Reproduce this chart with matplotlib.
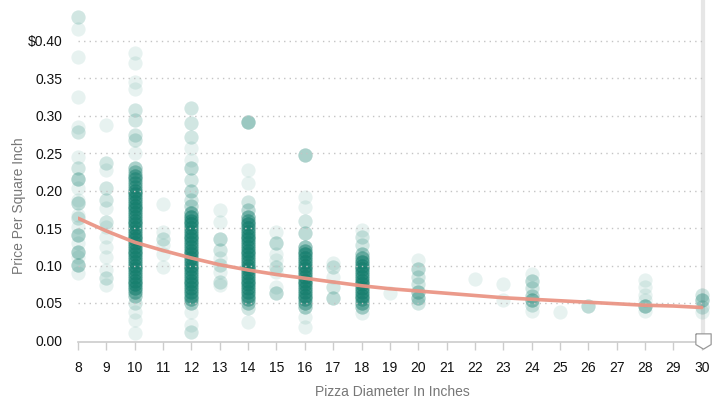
import matplotlib
matplotlib.use('Agg')
import matplotlib.pyplot as plt
import numpy as np

plt.rcParams['font.family'] = ['Liberation Sans', 'DejaVu Sans']

# price per square inch, one list per diameter
# (counts = how many stacked points sit at that price)
d8_price = [0.432, 0.416, 0.378, 0.325, 0.285, 0.278, 0.245, 0.230, 0.216, 0.203,
            0.187, 0.183, 0.167, 0.163, 0.151, 0.141, 0.130, 0.118, 0.111, 0.101, 0.090]
d8_count = [2, 1, 1, 1, 1, 2, 1, 2, 4, 1, 1, 3, 1, 2, 1, 4, 1, 4, 1, 4, 1]

d9_price = [0.287, 0.237, 0.227, 0.203, 0.187, 0.177, 0.158, 0.151, 0.138, 0.125,
            0.111, 0.094, 0.083, 0.074]
d9_count = [1, 2, 1, 2, 2, 1, 2, 1, 1, 1, 1, 1, 2, 1]

d10_price = [0.383, 0.370, 0.345, 0.336, 0.307, 0.294, 0.274, 0.267, 0.250,
             0.230, 0.225, 0.220, 0.215, 0.210, 0.205, 0.200, 0.195, 0.190, 0.185,
             0.180, 0.175, 0.170, 0.165, 0.160, 0.155, 0.150, 0.145, 0.140, 0.135,
             0.130, 0.125, 0.120, 0.115, 0.110, 0.105, 0.100, 0.095, 0.090, 0.085,
             0.080, 0.075, 0.070, 0.065, 0.060,
             0.050, 0.038, 0.027, 0.010]
d10_count = [1, 1, 1, 1, 2, 2, 2, 2, 1,
             4, 4, 6, 6, 6, 6, 8, 8, 8, 8,
             8, 8, 8, 8, 8, 8, 8, 8, 8, 8,
             8, 8, 8, 8, 8, 8, 8, 8, 8, 8,
             8, 8, 8, 6, 4,
             2, 1, 1, 1]

d11_price = [0.182, 0.145, 0.136, 0.127, 0.116, 0.098]
d11_count = [1, 1, 2, 1, 1, 1]

d12_price = [0.310, 0.290, 0.272, 0.257, 0.241, 0.230, 0.214, 0.200, 0.187, 0.180,
             0.170, 0.165, 0.160, 0.155, 0.150, 0.145, 0.140, 0.135, 0.130, 0.125,
             0.120, 0.115, 0.110, 0.105, 0.100, 0.095, 0.090, 0.085, 0.080, 0.075,
             0.070, 0.065, 0.060, 0.055, 0.050,
             0.038, 0.021, 0.011]
d12_count = [2, 2, 2, 1, 1, 3, 2, 3, 2, 3,
             6, 8, 8, 8, 8, 8, 8, 8, 8, 8,
             8, 8, 8, 8, 8, 8, 8, 8, 8, 8,
             8, 8, 6, 6, 4,
             1, 1, 2]

d13_price = [0.174, 0.158, 0.136, 0.121, 0.110, 0.101, 0.091, 0.078, 0.074]
d13_count = [1, 1, 3, 2, 1, 2, 1, 2, 1]

d14_price = [0.291, 0.227, 0.210, 0.185, 0.174,
             0.165, 0.160, 0.155, 0.150, 0.145, 0.140, 0.135, 0.130, 0.125, 0.120,
             0.115, 0.110, 0.105, 0.100, 0.095, 0.090, 0.085, 0.080, 0.075, 0.070,
             0.065, 0.060, 0.055, 0.050,
             0.043, 0.025]
d14_count = [5, 1, 1, 2, 3,
             6, 6, 8, 8, 8, 8, 8, 8, 8, 8,
             8, 8, 8, 8, 8, 8, 8, 8, 8, 8,
             8, 6, 6, 4,
             2, 1]

d15_price = [0.145, 0.130, 0.116, 0.107, 0.098, 0.091, 0.071, 0.063]
d15_count = [1, 3, 1, 1, 2, 1, 1, 3]

d16_price = [0.247, 0.191, 0.178, 0.160, 0.143,
             0.125, 0.120, 0.115, 0.110, 0.105, 0.100, 0.095, 0.090, 0.085, 0.080,
             0.075, 0.070, 0.065, 0.060, 0.055, 0.050, 0.045,
             0.031, 0.018]
d16_count = [4, 1, 1, 2, 3,
             5, 6, 8, 8, 8, 8, 8, 8, 8, 8,
             8, 8, 8, 8, 6, 6, 4,
             1, 1]

d17_price = [0.104, 0.098, 0.085, 0.071, 0.057]
d17_count = [1, 2, 1, 2, 3]

d18_price = [0.147, 0.138, 0.127,
             0.115, 0.110, 0.105, 0.100, 0.095, 0.090, 0.085, 0.080, 0.075, 0.070,
             0.065, 0.060, 0.055, 0.050, 0.045,
             0.037]
d18_count = [1, 2, 2,
             4, 6, 8, 8, 8, 8, 8, 8, 8, 8,
             8, 8, 6, 6, 4,
             1]

d19_price = [0.063]
d19_count = [1]

d20_price = [0.107, 0.096, 0.085, 0.076, 0.065, 0.057, 0.050]
d20_count = [1, 3, 2, 2, 4, 4, 2]

d22_price = [0.082]
d22_count = [1]

d23_price = [0.075, 0.054]
d23_count = [1, 1]

d24_price = [0.089, 0.080, 0.070, 0.060, 0.054, 0.047, 0.040]
d24_count = [1, 3, 2, 3, 5, 2, 1]

d25_price = [0.038]
d25_count = [1]

d26_price = [0.046]
d26_count = [3]

d28_price = [0.081, 0.071, 0.061, 0.054, 0.046, 0.040]
d28_count = [1, 1, 1, 1, 5, 1]

d30_price = [0.061, 0.054, 0.045, 0.038]
d30_count = [2, 4, 2, 1]

# fitted trend line, read at each whole inch
trend_diam = list(range(8, 31))
trend_price = [0.163, 0.146, 0.131, 0.120, 0.110, 0.101, 0.094, 0.088, 0.083, 0.078,
               0.073, 0.069, 0.066, 0.063, 0.060, 0.057, 0.055, 0.053, 0.051, 0.049,
               0.047, 0.046, 0.044]

columns = [
    (8, d8_price, d8_count), (9, d9_price, d9_count), (10, d10_price, d10_count),
    (11, d11_price, d11_count), (12, d12_price, d12_count), (13, d13_price, d13_count),
    (14, d14_price, d14_count), (15, d15_price, d15_count), (16, d16_price, d16_count),
    (17, d17_price, d17_count), (18, d18_price, d18_count), (19, d19_price, d19_count),
    (20, d20_price, d20_count), (22, d22_price, d22_count), (23, d23_price, d23_count),
    (24, d24_price, d24_count), (25, d25_price, d25_count), (26, d26_price, d26_count),
    (28, d28_price, d28_count), (30, d30_price, d30_count),
]

xs, ys = [], []
for d, prices, counts in columns:
    for p, c in zip(prices, counts):
        xs += [d] * c
        ys += [p] * c

TEAL = '#15806f'
SALMON = '#ea9585'

fig = plt.figure(figsize=(7.17, 4.03), dpi=100)
ax = fig.add_axes([78 / 717, 61 / 403, (706 - 78) / 717, 342 / 403])

ax.set_xlim(8, 30.15)
ax.set_ylim(-0.002, 0.454)

# slider track on the right
ax.axvline(30.05, color='#e6e6e6', lw=3, zorder=0.5)

ax.scatter(xs, ys, s=105, color=TEAL, alpha=0.1, linewidths=0, zorder=2, clip_on=False)

# dotted horizontal grid, drawn over the points
for g in np.arange(0.05, 0.401, 0.05):
    ax.axhline(g, color='#c4c4c4', lw=1, ls=(0, (1, 3)), zorder=2.5)

ax.plot(trend_diam, trend_price, color=SALMON, lw=2.6, alpha=0.95, zorder=3,
        solid_capstyle='round')

# slider handle
handle = [(-1, 1), (1, 1), (1, -0.4), (0, -1), (-1, -0.4), (-1, 1)]
ax.plot([30.05], [-0.001], marker=handle, markersize=11, markerfacecolor='white',
        markeredgecolor='#999999', markeredgewidth=0.9, zorder=5, clip_on=False)

for s in ['top', 'right', 'left']:
    ax.spines[s].set_visible(False)
ax.spines['bottom'].set_color('#cccccc')
ax.spines['bottom'].set_linewidth(1.2)

ax.set_xticks(range(8, 31))
ax.set_xticklabels([str(i) for i in range(8, 31)])
yt = [0.0, 0.05, 0.10, 0.15, 0.20, 0.25, 0.30, 0.35, 0.40]
ax.set_yticks(yt)
ax.set_yticklabels([f'{v:.2f}' for v in yt[:-1]] + ['$0.40'])
ax.tick_params(axis='x', length=6, width=1, color='#cccccc', pad=8,
               labelsize=10, labelcolor='#111111')
ax.tick_params(axis='y', length=0, pad=11, labelsize=10, labelcolor='#111111')

ax.set_xlabel('Pizza Diameter In Inches', fontsize=10, color='#777777', labelpad=7)
ax.set_ylabel('Price Per Square Inch', fontsize=10, color='#777777')
ax.yaxis.set_label_coords(-52 / 628, 0.40)

fig.savefig('out.png', dpi=100)
